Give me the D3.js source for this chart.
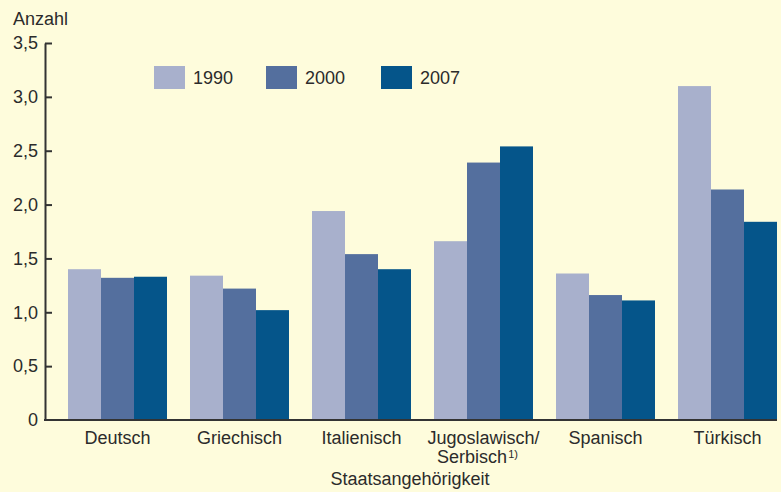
<html>
<head>
<meta charset="utf-8">
<title>Anzahl nach Staatsangehörigkeit</title>
<style>
body { margin: 0; background: #fefcdc; }
text { font-family: "Liberation Sans", Arial, sans-serif; fill: #2b2b2b; }
</style>
</head>
<body>
<svg width="781" height="492"></svg>
<script src="https://d3js.org/d3.v7.min.js"></script>
<script>

var categories = ["Deutsch", "Griechisch", "Italienisch", "Jugoslawisch/", "Spanisch", "Türkisch"];
var years = ["1990", "2000", "2007"];
var values1990 = [1.40, 1.34, 1.94, 1.66, 1.36, 3.10];
var values2000 = [1.32, 1.22, 1.54, 2.39, 1.16, 2.14];
var values2007 = [1.33, 1.02, 1.40, 2.54, 1.11, 1.84];
var yTicks = [0, 0.5, 1, 1.5, 2, 2.5, 3, 3.5];
var colors = ["#a8b0cc", "#546f9e", "#05558a"];

var series = [values1990, values2000, values2007];
var data = categories.map(function(c, i) {
  return { cat: c, vals: years.map(function(y, j) { return { year: y, value: series[j][i] }; }) };
});

var svg = d3.select("svg");

var x0 = d3.scaleBand()
    .domain(categories)
    .range([45, 777])
    .paddingInner(23 / 122)
    .paddingOuter(23 / 244)
    .align(1);

var x1 = d3.scaleBand()
    .domain(years)
    .range([0, x0.bandwidth()]);

var y = d3.scaleLinear()
    .domain([0, 3.5])
    .range([420, 43]);

var color = d3.scaleOrdinal().domain(years).range(colors);

// bars
var group = svg.selectAll(".group")
  .data(data)
  .enter().append("g")
    .attr("class", "group")
    .attr("transform", function(d) { return "translate(" + x0(d.cat) + ",0)"; });

group.selectAll("rect")
  .data(function(d) { return d.vals; })
  .enter().append("rect")
    .attr("x", function(d) { return x1(d.year); })
    .attr("width", x1.bandwidth())
    .attr("y", function(d) { return y(d.value); })
    .attr("height", function(d) { return y(0) - y(d.value); })
    .style("fill", function(d) { return color(d.year); });

// y axis
var yAxis = svg.append("g")
    .attr("transform", "translate(45,0)")
    .call(d3.axisLeft(y)
      .tickValues(yTicks)
      .tickSizeInner(-7)
      .tickSizeOuter(0)
      .tickFormat(function(d) { return d === 0 ? "0" : d3.format(".1f")(d).replace(".", ","); }));

yAxis.select(".domain").attr("stroke", "#333").attr("stroke-width", 2);
yAxis.selectAll(".tick line").attr("stroke", "#333").attr("stroke-width", 2);
yAxis.selectAll(".tick text")
    .attr("x", -7)
    .style("font-size", "18px")
    .style("font-family", "'Liberation Sans', Arial, sans-serif")
    .style("fill", "#2b2b2b");
yAxis.select(".tick line").remove();

// x axis line
svg.append("line")
    .attr("x1", 44).attr("x2", 777)
    .attr("y1", y(0)).attr("y2", y(0))
    .attr("stroke", "#333")
    .attr("stroke-width", 2);

// category labels
svg.selectAll(".cat")
  .data(categories)
  .enter().append("text")
    .attr("class", "cat")
    .attr("x", function(d) { return x0(d) + x0.bandwidth() / 2; })
    .attr("y", 444)
    .attr("text-anchor", "middle")
    .style("font-size", "18px")
    .text(function(d) { return d; });

var serb = svg.append("text")
    .attr("x", x0("Jugoslawisch/") + x0.bandwidth() / 2 - 6)
    .attr("y", 463)
    .attr("text-anchor", "middle")
    .style("font-size", "18px");
serb.append("tspan").text("Serbisch");
serb.append("tspan").attr("dy", -5).attr("dx", 1).style("font-size", "11px").text("1)");

svg.append("text")
    .attr("x", 410)
    .attr("y", 485)
    .attr("text-anchor", "middle")
    .style("font-size", "18px")
    .text("Staatsangehörigkeit");

svg.append("text")
    .attr("x", 13)
    .attr("y", 25)
    .style("font-size", "18px")
    .text("Anzahl");

// legend
var legendX = [154, 266, 381];
var legend = svg.selectAll(".legend")
  .data(years)
  .enter().append("g")
    .attr("class", "legend")
    .attr("transform", function(d, i) { return "translate(" + legendX[i] + ",66)"; });

legend.append("rect")
    .attr("width", 31)
    .attr("height", 23)
    .style("fill", function(d) { return color(d); });

legend.append("text")
    .attr("x", 39)
    .attr("y", 18)
    .style("font-size", "18px")
    .text(function(d) { return d; });

</script>
</body>
</html>
